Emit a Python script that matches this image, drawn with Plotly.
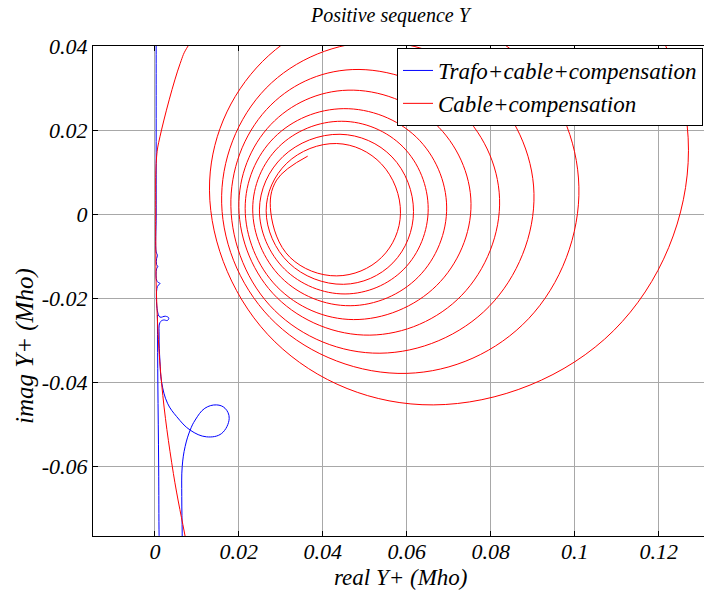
import plotly.graph_objects as go

# ---- data ----
red_x = [0.0364, 0.0290, 0.0276, 0.0322, 0.0433, 0.0540, 0.0585, 0.0540, 0.0433, 0.0314,
         0.0265, 0.0319, 0.0449, 0.0567, 0.0616, 0.0565, 0.0441, 0.0305,
         0.0249, 0.0309, 0.0453, 0.0593, 0.0651, 0.0591, 0.0445, 0.0295,
         0.0233, 0.0301, 0.0465, 0.0628, 0.0695, 0.0623, 0.0450, 0.0284,
         0.0215, 0.0291, 0.0473, 0.0671, 0.0753, 0.0667, 0.0460, 0.0276,
         0.0200, 0.0291, 0.0512, 0.0731, 0.0821, 0.0718, 0.0470, 0.0266,
         0.0181, 0.0285, 0.0536, 0.0796, 0.0903, 0.0786, 0.0530, 0.0265,
         0.0159, 0.0288, 0.0600, 0.0890, 0.1010, 0.0878, 0.0560, 0.0256,
         0.0130, 0.0286, 0.0663, 0.1093, 0.1271, 0.1093, 0.0663, 0.0196,
         0.0079, 0.0060, 0.0012, 0.0004, 0.0002, 0.0002, 0.0004, 0.0016, 0.0044, 0.0072, 0.0076]
red_y = [0.0138, 0.0081, 0.0005, -0.0103, -0.0147, -0.0103, 0.0002, 0.0119, 0.0168, 0.0121,
         0.0008, -0.0116, -0.0167, -0.0116, 0.0006, 0.0136, 0.0190, 0.0137,
         0.0010, -0.0131, -0.0190, -0.0131, 0.0013, 0.0160, 0.0221, 0.0160,
         0.0012, -0.0151, -0.0218, -0.0149, 0.0017, 0.0183, 0.0251, 0.0182,
         0.0014, -0.0173, -0.0251, -0.0170, 0.0025, 0.0216, 0.0295, 0.0213,
         0.0016, -0.0199, -0.0288, -0.0193, 0.0037, 0.0254, 0.0344, 0.0249,
         0.0018, -0.0229, -0.0331, -0.0220, 0.0049, 0.0306, 0.0410, 0.0300,
         0.0026, -0.0260, -0.0379, -0.0249, 0.0065, 0.0366, 0.0490, 0.0363,
         0.0057, -0.0304, -0.0454, -0.0277, 0.0152, 0.0582, 0.0760, 0.0537,
         0.0400, 0.0358, 0.0184, 0.0136, 0.0000, -0.0062, -0.0200, -0.0403, -0.0617, -0.0767, -0.0790]

blue_x = [0.0003, 0.0003, 0.0003, 0.0003, 0.0003, 0.0006, 0.0004, 0.0004, 0.0007, 0.0004,
          0.0005, 0.0012, 0.0006, 0.0006, 0.0012, 0.0025, 0.0033, 0.0030, 0.0020, 0.0012,
          0.0010, 0.0012, 0.0016, 0.0030, 0.0052, 0.0084, 0.0123, 0.0159, 0.0177, 0.0167,
          0.0147, 0.0119, 0.0096, 0.0084, 0.0072, 0.0065, 0.0064, 0.0065, 0.0065,
          None,
          0.0006, 0.0007, 0.0009, 0.0010, 0.0011]
blue_y = [0.0450, 0.0400, 0.0200, 0.0000, -0.0090, -0.0098, -0.0106, -0.0120, -0.0125, -0.0130,
          -0.0160, -0.0165, -0.0172, -0.0230, -0.0245, -0.0243, -0.0247, -0.0253, -0.0252, -0.0258,
          -0.0290, -0.0350, -0.0400, -0.0450, -0.0482, -0.0514, -0.0530, -0.0522, -0.0486, -0.0462,
          -0.0454, -0.0462, -0.0490, -0.0514, -0.0553, -0.0601, -0.0672, -0.0759, -0.0800,
          None,
          -0.0240, -0.0400, -0.0600, -0.0765, -0.0800]

x_ticks = [0, 0.02, 0.04, 0.06, 0.08, 0.1, 0.12]
x_tick_labels = ["0", "0.02", "0.04", "0.06", "0.08", "0.1", "0.12"]
y_ticks = [-0.06, -0.04, -0.02, 0, 0.02, 0.04]
y_tick_labels = ["-0.06", "-0.04", "-0.02", "0", "0.02", "0.04"]

FONT = "Liberation Serif, Times New Roman, serif"

fig = go.Figure()
fig.add_trace(go.Scatter(x=blue_x, y=blue_y, mode="lines", name="Trafo+cable+compensation",
                         line=dict(color="#0000ff", width=1, shape="spline", smoothing=1.1),
                         connectgaps=False))
fig.add_trace(go.Scatter(x=red_x, y=red_y, mode="lines", name="Cable+compensation",
                         line=dict(color="#ff0000", width=1, shape="spline", smoothing=1.1)))

axis_common = dict(showgrid=True, gridcolor="#a8a8a8", gridwidth=1, zeroline=False,
                   showline=True, linecolor="black", linewidth=1,
                   ticks="inside", ticklen=5, tickcolor="black",
                   tickfont=dict(family=FONT, size=22, color="black", style="italic"))

fig.update_xaxes(range=[-0.014745, 0.1308], tickvals=x_ticks, ticktext=x_tick_labels,
                 mirror="ticks", ticklabelstandoff=-4, **axis_common)
fig.update_yaxes(range=[-0.0766, 0.04001], tickvals=y_ticks, ticktext=y_tick_labels,
                 mirror=False, **axis_common)

title_font = dict(family=FONT, size=23, color="black", style="italic")
W, H = 611, 490  # plot area in px (left 93, top 46)
fig.update_layout(
    width=704, height=590,
    margin=dict(l=93, r=0, t=46, b=54, pad=0),
    plot_bgcolor="white", paper_bgcolor="white",
    showlegend=True,
    legend=dict(x=(397 - 93) / W, y=1 - (48 - 46) / H, xanchor="left", yanchor="top",
                bgcolor="white", bordercolor="black", borderwidth=1,
                font=dict(family=FONT, size=23, color="black", style="italic"),
                tracegroupgap=0),
    annotations=[
        dict(text="Positive sequence Y", xref="paper", yref="paper",
             x=(391 - 93) / W, y=1 + (46 - 16) / H, xanchor="center", yanchor="middle",
             showarrow=False, font=dict(family=FONT, size=20, color="black", style="italic")),
        dict(text="real Y+ (Mho)", xref="paper", yref="paper",
             x=(401 - 93) / W, y=-(577 - 536) / H, xanchor="center", yanchor="middle",
             showarrow=False, font=title_font),
        dict(text="imag Y+ (Mho)", xref="paper", yref="paper", textangle=-90,
             x=-(93 - 25) / W, y=(536 - 346) / H, xanchor="center", yanchor="middle",
             showarrow=False, font=dict(family=FONT, size=25, color="black", style="italic")),
    ],
)

fig.write_html("out.html", config={"displayModeBar": False},
               post_script="document.body.style.margin='0';")
